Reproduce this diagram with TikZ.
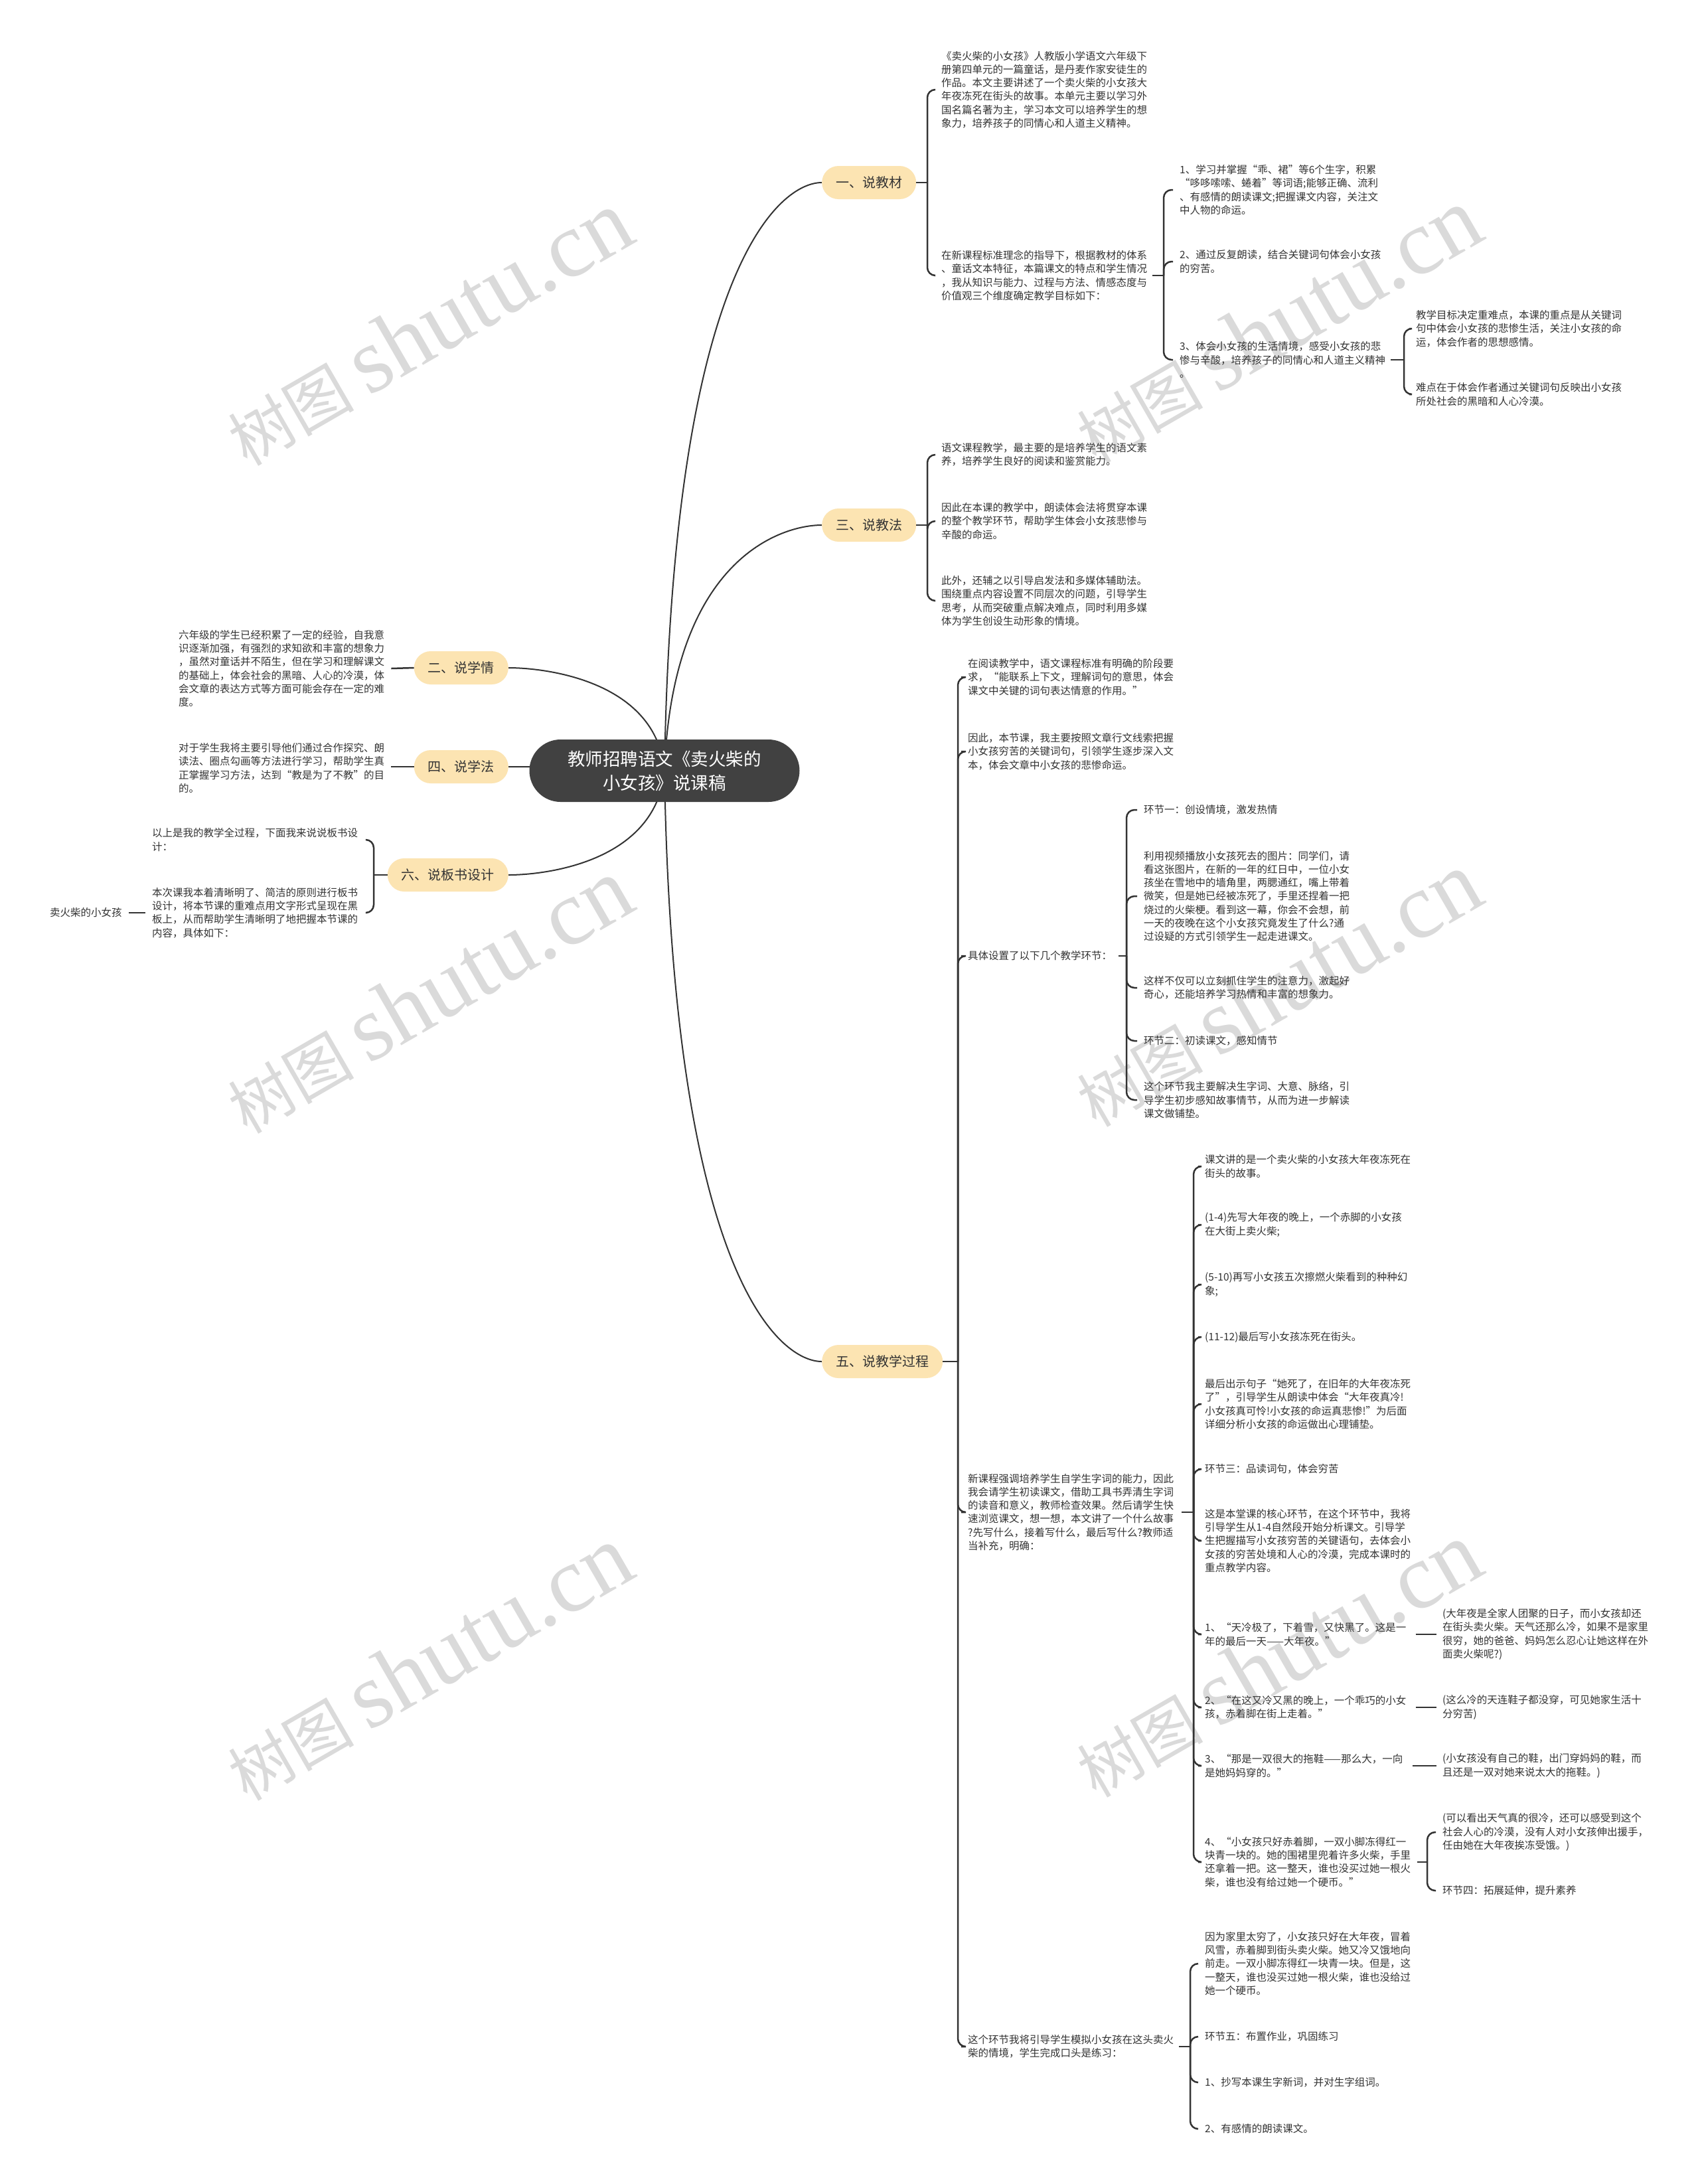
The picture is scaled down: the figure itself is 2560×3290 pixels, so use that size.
\documentclass[tikz,border=0pt]{standalone}
\usepackage{fontspec}
\setmainfont{Noto Sans CJK SC}
\newfontfamily\wmserif{Liberation Serif}
\usetikzlibrary{calc}
\definecolor{linec}{HTML}{333333}
\definecolor{textc}{HTML}{333333}
\definecolor{pillc}{HTML}{FCE4B2}
\definecolor{rootc}{HTML}{414141}
\definecolor{wmc}{HTML}{DADADA}
\pgfdeclarelayer{bg}
\pgfsetlayers{bg,main}
\newcommand\bodyf{\fontsize{15.5}{20.3}\selectfont}
\newcommand\kid[3]{\draw[conn] (#1.east -| #2) |- ([xshift=-10pt]#3.west);}
\newcommand\kidl[3]{\draw[conn] (#1.west -| #2) |- ([xshift=12pt]#3.east);}
\begin{document}
\begin{tikzpicture}[x=1pt,y=-1pt,
  conn/.style={draw=linec,line width=2.5pt,rounded corners=12pt},
  curv/.style={draw=linec,line width=2pt},
  txt/.style={anchor=west,inner sep=0pt,align=left,text=textc,font=\bodyf},
  pill/.style={fill=pillc,rounded corners=25pt,minimum height=50pt,inner xsep=21pt,inner ysep=0pt,text=textc,font=\fontsize{20}{24}\selectfont},
  rootn/.style={fill=rootc,text=white,rounded corners=47pt,minimum width=407pt,minimum height=94pt,align=center,inner sep=0pt,font=\fontsize{26.5}{36}\selectfont},
  wm/.style={text=wmc,rotate=30,inner sep=0pt,font=\fontsize{95}{100}\selectfont}]
\useasboundingbox (0,0) rectangle (2560,3290);

% background and watermarks
\begin{pgfonlayer}{bg}
\fill[white] (0,0) rectangle (2560,3290);
\node[wm] (w1) at (645,494) {树图 {\wmserif\fontsize{140}{140}\selectfont shutu.cn}};
\node[wm] (w2) at (1924,490) {树图 {\wmserif\fontsize{140}{140}\selectfont shutu.cn}};
\node[wm] (w3) at (645,1500) {树图 {\wmserif\fontsize{140}{140}\selectfont shutu.cn}};
\node[wm] (w4) at (1924,1490) {树图 {\wmserif\fontsize{140}{140}\selectfont shutu.cn}};
\node[wm] (w5) at (645,2505) {树图 {\wmserif\fontsize{140}{140}\selectfont shutu.cn}};
\node[wm] (w6) at (1924,2500) {树图 {\wmserif\fontsize{140}{140}\selectfont shutu.cn}};
\end{pgfonlayer}

% root and branches
\node[rootn] (root) at (1001,1161) {教师招聘语文《卖火柴的\\小女孩》说课稿};
\node[pill,anchor=west] (p1) at (1238,275) {一、说教材};
\node[pill,anchor=west] (p3) at (1238,791) {三、说教法};
\node[pill,anchor=west] (p5) at (1238,2051) {五、说教学过程};
\node[pill,anchor=east] (p2) at (766,1006) {二、说学情};
\node[pill,anchor=east] (p4) at (766,1155) {四、说学法};
\node[pill,anchor=east] (p6) at (766,1318) {六、说板书设计};

\begin{pgfonlayer}{bg}
\draw[curv] (root.center) .. controls (1013,399) and (1176,275) .. (p1.west);
\draw[curv] (root.center) .. controls (1013,843) and (1176,791) .. (p3.west);
\draw[curv] (root.center) .. controls (1013,1926) and (1176,2051) .. (p5.west);
\draw[curv] (root.center) .. controls (989,1028) and (827,1006) .. (p2.east);
\draw[curv] (root.center) .. controls (989,1156) and (827,1155) .. (p4.east);
\draw[curv] (root.center) .. controls (989,1296) and (827,1318) .. (p6.east);
\end{pgfonlayer}

% bus x coordinates
\coordinate (bx1) at (1397,0);
\coordinate (bxB) at (1753,0);
\coordinate (bxB3) at (2115,0);
\coordinate (bx3) at (1397,0);
\coordinate (bx5) at (1443,0);
\coordinate (bxE3) at (1697,0);
\coordinate (bxE4) at (1798,0);
\coordinate (bxG11) at (2150,0);
\coordinate (bxE5) at (1793,0);
\coordinate (bx6) at (563,0);

% ---- 一、说教材
\node[txt] (a) at (1418,135) {《卖火柴的小女孩》人教版小学语文六年级下\\册第四单元的一篇童话，是丹麦作家安徒生的\\作品。本文主要讲述了一个卖火柴的小女孩大\\年夜冻死在街头的故事。本单元主要以学习外\\国名篇名著为主，学习本文可以培养学生的想\\象力，培养孩子的同情心和人道主义精神。};
\node[txt] (b) at (1418,415) {在新课程标准理念的指导下，根据教材的体系\\、童话文本特征，本篇课文的特点和学生情况\\，我从知识与能力、过程与方法、情感态度与\\价值观三个维度确定教学目标如下：};
\node[txt] (b1) at (1777,286) {1、学习并掌握“乖、裙”等6个生字，积累\\“哆哆嗦嗦、蜷着”等词语;能够正确、流利\\、有感情的朗读课文;把握课文内容，关注文\\中人物的命运。};
\node[txt] (b2) at (1777,394) {2、通过反复朗读，结合关键词句体会小女孩\\的穷苦。};
\node[txt] (b3) at (1777,542) {3、体会小女孩的生活情境，感受小女孩的悲\\惨与辛酸，培养孩子的同情心和人道主义精神\\。};
\node[txt] (b3a) at (2133,495) {教学目标决定重难点，本课的重点是从关键词\\句中体会小女孩的悲惨生活，关注小女孩的命\\运，体会作者的思想感情。};
\node[txt] (b3b) at (2133,594) {难点在于体会作者通过关键词句反映出小女孩\\所处社会的黑暗和人心冷漠。};
\draw[conn] (p1.east) -- (p1.east -| bx1);
\kid{p1}{bx1}{a} \kid{p1}{bx1}{b}
\draw[conn] ([xshift=8pt]b.east) -- (b.east -| bxB);
\kid{b}{bxB}{b1} \kid{b}{bxB}{b2} \kid{b}{bxB}{b3}
\draw[conn] ([xshift=8pt]b3.east) -- (b3.east -| bxB3);
\kid{b3}{bxB3}{b3a} \kid{b3}{bxB3}{b3b}

% ---- 三、说教法
\node[txt] (c1) at (1418,685) {语文课程教学，最主要的是培养学生的语文素\\养，培养学生良好的阅读和鉴赏能力。};
\node[txt] (c2) at (1418,785) {因此在本课的教学中，朗读体会法将贯穿本课\\的整个教学环节，帮助学生体会小女孩悲惨与\\辛酸的命运。};
\node[txt] (c3) at (1418,905) {此外，还辅之以引导启发法和多媒体辅助法。\\围绕重点内容设置不同层次的问题，引导学生\\思考，从而突破重点解决难点，同时利用多媒\\体为学生创设生动形象的情境。};
\draw[conn] (p3.east) -- (p3.east -| bx3);
\kid{p3}{bx3}{c1} \kid{p3}{bx3}{c2} \kid{p3}{bx3}{c3}

% ---- 二、四、六 (left)
\node[txt] (l2) at (269,1007) {六年级的学生已经积累了一定的经验，自我意\\识逐渐加强，有强烈的求知欲和丰富的想象力\\，虽然对童话并不陌生，但在学习和理解课文\\的基础上，体会社会的黑暗、人心的冷漠，体\\会文章的表达方式等方面可能会存在一定的难\\度。};
\node[txt] (l4) at (269,1157) {对于学生我将主要引导他们通过合作探究、朗\\读法、圈点勾画等方法进行学习，帮助学生真\\正掌握学习方法，达到“教是为了不教”的目\\的。};
\draw[conn] ([xshift=10pt]l2.east) -- (p2.west);
\draw[conn] ([xshift=10pt]l4.east |- p4.west) -- (p4.west);
\node[txt] (d1) at (229,1265) {以上是我的教学全过程，下面我来说说板书设\\计：};
\node[txt] (d2) at (229,1375) {本次课我本着清晰明了、简洁的原则进行板书\\设计，将本节课的重难点用文字形式呈现在黑\\板上，从而帮助学生清晰明了地把握本节课的\\内容，具体如下：};
\node[txt] (d2a) at (75,1375) {卖火柴的小女孩};
\draw[conn] (p6.west) -- (p6.west -| bx6);
\kidl{p6}{bx6}{d1} \kidl{p6}{bx6}{d2}
\draw[conn] ([xshift=10pt]d2a.east) -- ([xshift=-10pt]d2.west);

% ---- 五、说教学过程
\node[txt] (e1) at (1458,1020) {在阅读教学中，语文课程标准有明确的阶段要\\求，“能联系上下文，理解词句的意思，体会\\课文中关键的词句表达情意的作用。”};
\node[txt] (e2) at (1458,1132) {因此，本节课，我主要按照文章行文线索把握\\小女孩穷苦的关键词句，引领学生逐步深入文\\本，体会文章中小女孩的悲惨命运。};
\node[txt] (e3) at (1458,1440) {具体设置了以下几个教学环节：};
\node[txt] (e4) at (1458,2278) {新课程强调培养学生自学生字词的能力，因此\\我会请学生初读课文，借助工具书弄清生字词\\的读音和意义，教师检查效果。然后请学生快\\速浏览课文，想一想，本文讲了一个什么故事\\?先写什么，接着写什么，最后写什么?教师适\\当补充，明确：};
\node[txt] (e5) at (1458,3083) {这个环节我将引导学生模拟小女孩在这头卖火\\柴的情境，学生完成口头是练习：};
\draw[conn] (p5.east) -- (p5.east -| bx5);
\kid{p5}{bx5}{e1} \kid{p5}{bx5}{e2} \kid{p5}{bx5}{e3} \kid{p5}{bx5}{e4} \kid{p5}{bx5}{e5}

% E3 children
\node[txt] (f1) at (1723,1220) {环节一：创设情境，激发热情};
\node[txt] (f2) at (1723,1350) {利用视频播放小女孩死去的图片：同学们，请\\看这张图片，在新的一年的红日中，一位小女\\孩坐在雪地中的墙角里，两腮通红，嘴上带着\\微笑，但是她已经被冻死了，手里还捏着一把\\烧过的火柴梗。看到这一幕，你会不会想，前\\一天的夜晚在这个小女孩究竟发生了什么?通\\过设疑的方式引领学生一起走进课文。};
\node[txt] (f3) at (1723,1488) {这样不仅可以立刻抓住学生的注意力，激起好\\奇心，还能培养学习热情和丰富的想象力。};
\node[txt] (f4) at (1723,1568) {环节二：初读课文，感知情节};
\node[txt] (f5) at (1723,1657) {这个环节我主要解决生字词、大意、脉络，引\\导学生初步感知故事情节，从而为进一步解读\\课文做铺垫。};
\draw[conn] ([xshift=10pt]e3.east) -- (e3.east -| bxE3);
\kid{e3}{bxE3}{f1} \kid{e3}{bxE3}{f2} \kid{e3}{bxE3}{f3} \kid{e3}{bxE3}{f4} \kid{e3}{bxE3}{f5}

% E4 children
\node[txt] (g1) at (1815,1757) {课文讲的是一个卖火柴的小女孩大年夜冻死在\\街头的故事。};
\node[txt] (g2) at (1815,1845) {(1-4)先写大年夜的晚上，一个赤脚的小女孩\\在大街上卖火柴;};
\node[txt] (g3) at (1815,1935) {(5-10)再写小女孩五次擦燃火柴看到的种种幻\\象;};
\node[txt] (g4) at (1815,2014) {(11-12)最后写小女孩冻死在街头。};
\node[txt] (g5) at (1815,2115) {最后出示句子“她死了，在旧年的大年夜冻死\\了”，引导学生从朗读中体会“大年夜真冷!\\小女孩真可怜!小女孩的命运真悲惨!”为后面\\详细分析小女孩的命运做出心理铺垫。};
\node[txt] (g6) at (1815,2213) {环节三：品读词句，体会穷苦};
\node[txt] (g7) at (1815,2321) {这是本堂课的核心环节，在这个环节中，我将\\引导学生从1-4自然段开始分析课文。引导学\\生把握描写小女孩穷苦的关键语句，去体会小\\女孩的穷苦处境和人心的冷漠，完成本课时的\\重点教学内容。};
\node[txt] (g8) at (1815,2462) {1、“天冷极了，下着雪，又快黑了。这是一\\年的最后一天——大年夜。”};
\node[txt] (g9) at (1815,2572) {2、“在这又冷又黑的晚上，一个乖巧的小女\\孩，赤着脚在街上走着。”};
\node[txt] (g10) at (1815,2660) {3、“那是一双很大的拖鞋——那么大，一向\\是她妈妈穿的。”};
\node[txt] (g11) at (1815,2805) {4、“小女孩只好赤着脚，一双小脚冻得红一\\块青一块的。她的围裙里兜着许多火柴，手里\\还拿着一把。这一整天，谁也没买过她一根火\\柴，谁也没有给过她一个硬币。”};
\draw[conn] ([xshift=12pt]e4.east) -- (e4.east -| bxE4);
\kid{e4}{bxE4}{g1} \kid{e4}{bxE4}{g2} \kid{e4}{bxE4}{g3} \kid{e4}{bxE4}{g4}
\kid{e4}{bxE4}{g5} \kid{e4}{bxE4}{g6} \kid{e4}{bxE4}{g7} \kid{e4}{bxE4}{g8}
\kid{e4}{bxE4}{g9} \kid{e4}{bxE4}{g10} \kid{e4}{bxE4}{g11}

% H nodes
\node[txt] (h1) at (2173,2462) {(大年夜是全家人团聚的日子，而小女孩却还\\在街头卖火柴。天气还那么冷，如果不是家里\\很穷，她的爸爸、妈妈怎么忍心让她这样在外\\面卖火柴呢?)};
\node[txt] (h2) at (2173,2572) {(这么冷的天连鞋子都没穿，可见她家生活十\\分穷苦)};
\node[txt] (h3) at (2173,2660) {(小女孩没有自己的鞋，出门穿妈妈的鞋，而\\且还是一双对她来说太大的拖鞋。)};
\node[txt] (h4) at (2173,2760) {(可以看出天气真的很冷，还可以感受到这个\\社会人心的冷漠，没有人对小女孩伸出援手，\\任由她在大年夜挨冻受饿。)};
\node[txt] (h5) at (2173,2848) {环节四：拓展延伸，提升素养};
\draw[conn] ([xshift=14pt]g8.east) -- ([xshift=-9pt]h1.west);
\draw[conn] ([xshift=14pt]g9.east) -- ([xshift=-9pt]h2.west);
\draw[conn] ([xshift=14pt]g10.east) -- ([xshift=-9pt]h3.west);
\draw[conn] ([xshift=10pt]g11.east) -- (g11.east -| bxG11);
\kid{g11}{bxG11}{h4} \kid{g11}{bxG11}{h5}

% E5 children
\node[txt] (i1) at (1815,2958) {因为家里太穷了，小女孩只好在大年夜，冒着\\风雪，赤着脚到街头卖火柴。她又冷又饿地向\\前走。一双小脚冻得红一块青一块。但是，这\\一整天，谁也没买过她一根火柴，谁也没给过\\她一个硬币。};
\node[txt] (i2) at (1815,3068) {环节五：布置作业，巩固练习};
\node[txt] (i3) at (1815,3137) {1、抄写本课生字新词，并对生字组词。};
\node[txt] (i4) at (1815,3207) {2、有感情的朗读课文。};
\draw[conn] ([xshift=8pt]e5.east) -- (e5.east -| bxE5);
\kid{e5}{bxE5}{i1} \kid{e5}{bxE5}{i2} \kid{e5}{bxE5}{i3} \kid{e5}{bxE5}{i4}
\end{tikzpicture}
\end{document}
